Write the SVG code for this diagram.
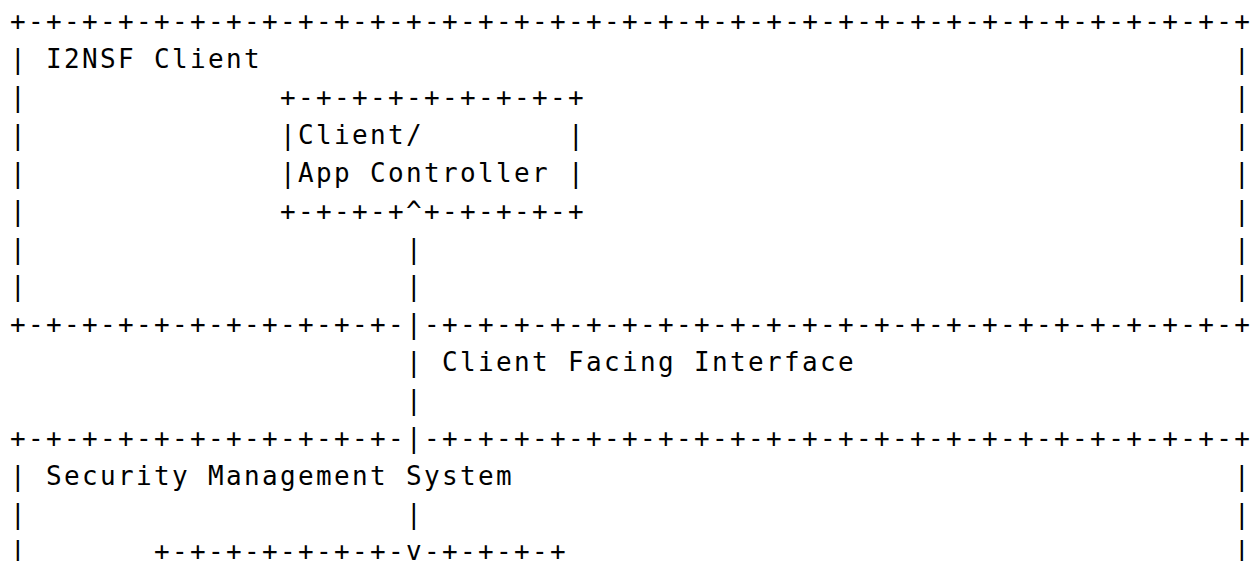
<svg xmlns="http://www.w3.org/2000/svg" width="1260" height="561" viewBox="0 0 1260 561">
<style>
.t{font-family:"DejaVu Sans Mono","Liberation Mono",monospace;font-size:26px;letter-spacing:2.35px;fill:#000;white-space:pre}
</style>
<rect width="1260" height="561" fill="#fff"/>
<g id="i2nsf-client" class="t" xml:space="preserve">
<text x="10" y="30.45">+-+-+-+-+-+-+-+-+-+-+-+-+-+-+-+-+-+-+-+-+-+-+-+-+-+-+-+-+-+-+-+-+-+-+</text>
<text x="10" y="68.3">|</text><text x="46" y="68.3">I2NSF Client</text><text x="1234" y="68.3">|</text>
<text x="10" y="106.15">|</text><text x="1234" y="106.15">|</text>
<text x="10" y="144">|</text><text x="1234" y="144">|</text>
<text x="10" y="181.85">|</text><text x="1234" y="181.85">|</text>
<text x="10" y="219.7">|</text><text x="1234" y="219.7">|</text>
<text x="10" y="257.55">|</text><text x="1234" y="257.55">|</text>
<text x="10" y="295.4">|</text><text x="1234" y="295.4">|</text>
<text x="10" y="333.25">+-+-+-+-+-+-+-+-+-+-+-</text><text x="424" y="333.25">-+-+-+-+-+-+-+-+-+-+-+-+-+-+-+-+-+-+-+-+-+-+-+</text>
</g>
<g id="app-controller" class="t" xml:space="preserve">
<text x="280" y="106.15">+-+-+-+-+-+-+-+-+</text>
<text x="280" y="144">|</text><text x="298" y="144">Client/</text><text x="568" y="144">|</text>
<text x="280" y="181.85">|</text><text x="298" y="181.85">App Controller</text><text x="568" y="181.85">|</text>
<text x="280" y="219.7">+-+-+-+</text><text x="424" y="219.7">+-+-+-+-+</text>
</g>
<g id="security-management-system" class="t" xml:space="preserve">
<text x="10" y="446.8">+-+-+-+-+-+-+-+-+-+-+-</text><text x="424" y="446.8">-+-+-+-+-+-+-+-+-+-+-+-+-+-+-+-+-+-+-+-+-+-+-+</text>
<text x="10" y="484.65">|</text><text x="46" y="484.65">Security Management System</text><text x="1234" y="484.65">|</text>
<text x="10" y="522.5">|</text><text x="1234" y="522.5">|</text>
<text x="10" y="560.35">|</text><text x="1234" y="560.35">|</text>
</g>
<g id="inner-box" class="t" xml:space="preserve">
<text x="154" y="560.35">+-+-+-+-+-+-+-</text><text x="424" y="560.35">-+-+-+-+</text>
</g>
<g id="connectors" class="t" xml:space="preserve">
<text x="406" y="219.7">^</text>
<text x="406" y="257.55">|</text>
<text x="406" y="295.4">|</text>
<text x="406" y="333.25">|</text>
<text x="406" y="371.1">|</text><text x="442" y="371.1">Client Facing Interface</text>
<text x="406" y="408.95">|</text>
<text x="406" y="446.8">|</text>
<text x="406" y="522.5">|</text>
<text x="406" y="560.35">v</text>
</g>
</svg>
